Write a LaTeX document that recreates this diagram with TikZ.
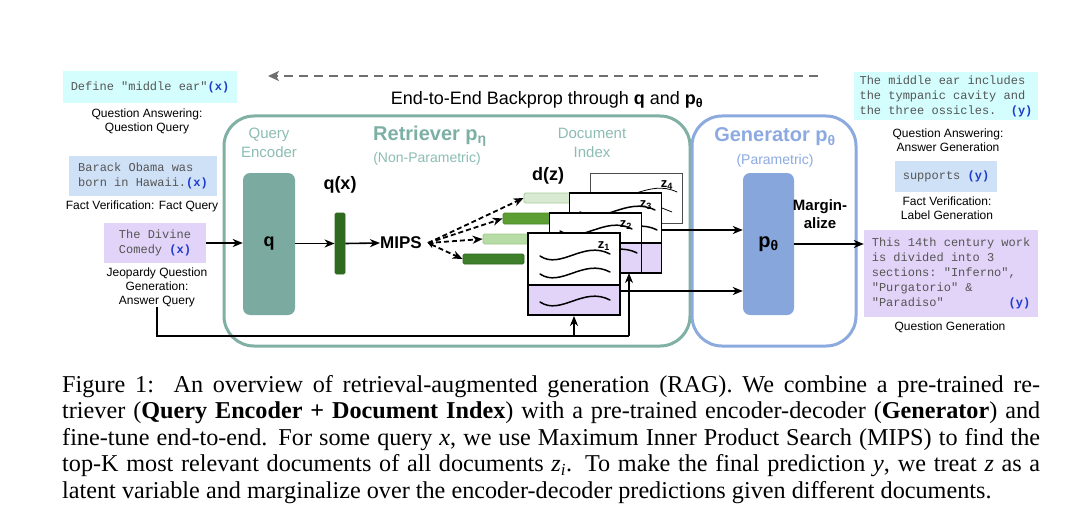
\documentclass[tikz,border=0pt]{standalone}
\usepackage{fontspec}
\setmainfont{Liberation Sans}
\setmonofont{Liberation Mono}
\newfontfamily\capfont{Liberation Serif}
\usetikzlibrary{arrows.meta}
\definecolor{cyanbg}{HTML}{D4FDFD}
\definecolor{bluebg}{HTML}{CFE1F7}
\definecolor{lavbg}{HTML}{E2D3F8}
\definecolor{monogray}{HTML}{555555}
\definecolor{xblue}{HTML}{1E3CCC}
\definecolor{tealline}{HTML}{80B0A4}
\definecolor{tealfill}{HTML}{7AAAA0}
\definecolor{tealtxt}{HTML}{7DB0A5}
\definecolor{lteal}{HTML}{8CBDB3}
\definecolor{genline}{HTML}{8CAADE}
\definecolor{genfill}{HTML}{86A6DC}
\definecolor{gentxt}{HTML}{8CAAE0}
\definecolor{dgreen}{HTML}{2E6B1E}
\definecolor{mgreen}{HTML}{5C9E33}
\definecolor{mgreenb}{HTML}{4A8A28}
\definecolor{lgreen}{HTML}{B8DCA5}
\definecolor{lgreenb}{HTML}{9CC98A}
\definecolor{vlgreen}{HTML}{D8EAD2}
\definecolor{vlgreenb}{HTML}{A9CC9C}
\definecolor{bgreen}{HTML}{3E7F2C}
\definecolor{backgray}{HTML}{6E6E6E}
\newcommand\xv{\textbf{\color{xblue}(x)}}
\newcommand\yv{\textbf{\color{xblue}(y)}}
\newcommand\wavyline[4][]{\draw[wavestyle,#1] (#2,#3) .. controls ({#2+0.3*#4},{#3+14}) and ({#2+0.62*#4},{#3-16}) .. ({#2+#4},{#3-2});}
\begin{document}
\begin{tikzpicture}[x=1pt,y=-1pt,
  arr/.style={line width=1.6pt,-{Stealth[length=10pt,width=8pt,inset=3pt]}},
  fbline/.style={line width=1.3pt},
  dsharr/.style={line width=1.8pt,dash pattern=on 5pt off 3pt,-{Stealth[length=10pt,width=8pt,inset=3pt]}},
  lbl/.style={font=\fontsize{12}{14}\selectfont,align=center,inner sep=0pt},
  txtbox/.style={font=\ttfamily\fontsize{12}{15}\selectfont,text=monogray,align=left,inner sep=0pt},
  cont/.style={line width=3pt,rounded corners=30pt,minimum height=230pt,inner sep=0pt},
  bar/.style={rounded corners=1.5pt,inner sep=0pt,line width=0.8pt},
  docbox/.style={draw=black,fill=white,line width=1.8pt,inner sep=0pt,minimum width=92pt},
  doclav/.style={draw=black,fill=lavbg,line width=1.8pt,inner sep=0pt,minimum width=92pt,minimum height=30pt},
  wavestyle/.style={line width=1.5pt,line cap=round},
  zlab/.style={font=\bfseries\fontsize{13}{13}\selectfont,inner sep=0pt},
  boldlab/.style={font=\bfseries\fontsize{18}{18}\selectfont,inner sep=0pt}
]
\useasboundingbox (0,0) rectangle (1078,532);
\fill[white] (0,0) rectangle (1078,532);

% backprop arrow
\coordinate (bpstart) at (818,76);
\coordinate (bpend) at (268,76);
\draw[backgray,line width=2.2pt,dash pattern=on 9pt off 6pt,-{Stealth[length=11pt,width=10pt,inset=3pt]}] (bpstart) -- (bpend);
\node[font=\fontsize{18}{18}\selectfont,inner sep=0pt] (bptext) at (547,100) {End-to-End Backprop through \textbf{q} and \textbf{p}\textsubscript{\textbf{θ}}};

% left inputs
\node[txtbox,fill=cyanbg,minimum width=174pt,minimum height=32pt] (qa) at (150,87) {Define "middle ear"\xv};
\node[lbl] (qalbl) at (147,121.5) {Question Answering:\\Question Query};
\node[txtbox,fill=bluebg,minimum width=148pt,minimum height=40pt] (fv) at (143,176) {Barack Obama was\\born in Hawaii.\xv};
\node[lbl] (fvlbl) at (142,206) {Fact Verification: Fact Query};
\node[txtbox,fill=lavbg,minimum width=102pt,minimum height=40pt] (jq) at (155,243) {The Divine\\Comedy \xv};
\node[lbl] (jqlbl) at (157,287) {Jeopardy Question\\Generation:\\Answer Query};

% containers
\node[cont,draw=tealline,minimum width=466pt] (ret) at (457,231) {};
\node[cont,draw=genline,minimum width=164pt] (gen) at (774,231) {};

% retriever labels
\node[font=\fontsize{15}{19}\selectfont,text=lteal,align=center,inner sep=0pt] (qelbl) at (269,143) {Query\\Encoder};
\node[font=\bfseries\fontsize{20}{20}\selectfont,text=tealtxt,inner sep=0pt] (retlbl) at (430,136) {Retriever p\textsubscript{η}};
\node[font=\fontsize{14}{14}\selectfont,text=lteal,inner sep=0pt] (nplbl) at (427,159) {(Non-Parametric)};
\node[font=\fontsize{15}{19}\selectfont,text=lteal,align=center,inner sep=0pt] (dilbl) at (592,143) {Document\\Index};
\node[font=\bfseries\fontsize{20}{20}\selectfont,text=gentxt,inner sep=0pt] (genlbl) at (775,137) {Generator p\textsubscript{θ}};
\node[font=\fontsize{14}{14}\selectfont,text=gentxt,inner sep=0pt] (plbl) at (775,161) {(Parametric)};

% query encoder
\node[fill=tealfill,rounded corners=7pt,minimum width=52pt,minimum height=142pt,inner sep=0pt,font=\bfseries\fontsize{18}{18}\selectfont] (q) at (269,244) {q};
\node[boldlab] (qxlbl) at (340,185) {q(x)};
\node[bar,fill=dgreen,draw=dgreen,minimum width=10pt,minimum height=61pt] (qx) at (340,243.5) {};
\node[font=\bfseries\fontsize{17}{17}\selectfont,inner sep=0pt] (mips) at (401,243) {MIPS};
\coordinate (mipsout) at (428,243);

% document vectors
\node[bar,fill=bgreen,draw=dgreen,minimum width=61pt,minimum height=10pt] (b1) at (493.5,259) {};
\node[bar,fill=lgreen,draw=lgreenb,minimum width=57pt,minimum height=10pt] (b2) at (511.5,239) {};
\node[bar,fill=mgreen,draw=mgreenb,minimum width=57pt,minimum height=11pt] (b3) at (531.5,218.5) {};
\node[bar,fill=vlgreen,draw=vlgreenb,minimum width=56pt,minimum height=10pt] (b4) at (552,198) {};
\node[boldlab] (dzlbl) at (548,176) {d(z)};

\draw[dsharr,{Stealth[length=6pt,width=6pt,inset=2pt]}-{Stealth[length=10pt,width=8pt,inset=3pt]}] (mipsout) -- (b1.west);
\draw[dsharr] (mipsout) -- (b2.west);
\draw[dsharr] (mipsout) -- (b3.west);
\draw[dsharr] (mipsout) -- (b4.west);

% documents
\node[docbox,draw=black!70,line width=0.8pt,minimum height=50pt] (z4) at (636,198) {};
\wavyline[line width=0.8pt]{600}{194}{77}
\draw[line width=0.8pt] (652,204) -- (672,212);
\node[zlab] at (667,185) {z\textsubscript{4}};

\node[docbox,minimum height=80pt] (z3) at (615.5,233) {};
\node[doclav] (z3l) at (615.5,258) {};
\wavyline{580}{212}{75}
\wavyline{585}{232}{72}
\node[zlab] at (646,205) {z\textsubscript{3}};

\node[docbox,minimum height=60pt] (z2) at (595.5,243) {};
\node[doclav] (z2l) at (595.5,258) {};
\wavyline{560}{231}{72}
\wavyline{565}{255}{72}
\node[zlab] at (626,225) {z\textsubscript{2}};

\node[docbox,minimum height=82pt] (z1) at (574,274) {};
\node[doclav] (z1l) at (574,300) {};
\wavyline{540}{256}{70}
\wavyline{540}{274}{70}
\wavyline{540}{302}{70}
\node[zlab] at (604,246) {z\textsubscript{1}};

% generator
\node[fill=genfill,rounded corners=7pt,minimum width=51pt,minimum height=142pt,inner sep=0pt,font=\bfseries\fontsize{20}{20}\selectfont] (pth) at (768.5,244) {p\textsubscript{θ}};
\node[font=\bfseries\fontsize{15}{18}\selectfont,align=center,inner sep=0pt] (marg) at (820,214) {Margin-\\alize};

% doc to generator arrows
\coordinate (d3out) at ([yshift=3pt]z3.east);
\draw[arr] (d3out) -- (d3out -| pth.west);
\coordinate (d1out) at ([yshift=9pt]z1l.east);
\draw[arr] (d1out) -- (d1out -| pth.west);

% right outputs
\node[txtbox,fill=cyanbg,minimum width=184pt,minimum height=48pt] (ra) at (946,96) {The middle ear includes\\the tympanic cavity and\\the three ossicles.~~\yv};
\node[lbl] (ralbl) at (948,140) {Question Answering:\\Answer Generation};
\node[txtbox,fill=bluebg,minimum width=102pt,minimum height=31pt] (rf) at (946,176.5) {supports \yv};
\node[lbl] (rflbl) at (947,208) {Fact Verification:\\Label Generation};
\node[txtbox,fill=lavbg,minimum width=174pt,minimum height=87pt] (rq) at (951,273.5) {This 14th century work\\is divided into 3\\sections: "Inferno",\\"Purgatorio" \&\\"Paradiso"~~~~~~~~~\yv};
\node[lbl] (rqlbl) at (950,327) {Question Generation};

% main flow arrows
\draw[arr] (jq.east) -- (jq.east -| q.west);
\draw[arr] (q.east |- qx.west) -- (qx.west);
\draw[arr] (qx.east) -- (mips.west);
\draw[arr] (pth.east) -- (pth.east -| rq.west);

% feedback lines
\coordinate (fbc) at (157,336);
\coordinate (up2) at (629,273);
\draw[fbline] (jqlbl.south) -- (jqlbl.south |- fbc) -- (up2 |- fbc);
\draw[fbline,-{Stealth[length=10pt,width=8pt,inset=3pt]}] (up2 |- fbc) -- (up2);
\draw[fbline,-{Stealth[length=10pt,width=8pt,inset=3pt]}] (z1l.south |- fbc) -- (z1l.south);

% caption
\node[anchor=north west,text width=978pt,inner sep=0pt,align=justify,font=\capfont\fontsize{24.2}{26.5}\selectfont] (cap) at (62,375) {\hyphenpenalty=10000 Figure 1:\ \ An overview of retrieval-augmented generation (RAG). We combine a pre-trained re-\linebreak triever (\textbf{Query Encoder + Document Index}) with a pre-trained encoder-decoder (\textbf{Generator}) and\linebreak fine-tune end-to-end. For some query \textit{x}, we use Maximum Inner Product Search (MIPS) to find the\linebreak top-K most relevant documents of all documents \textit{z}\textsubscript{\textit{i}}. To make the final prediction \textit{y}, we treat \textit{z} as a\linebreak latent variable and marginalize over the encoder-decoder predictions given different documents.};
\end{tikzpicture}
\end{document}
